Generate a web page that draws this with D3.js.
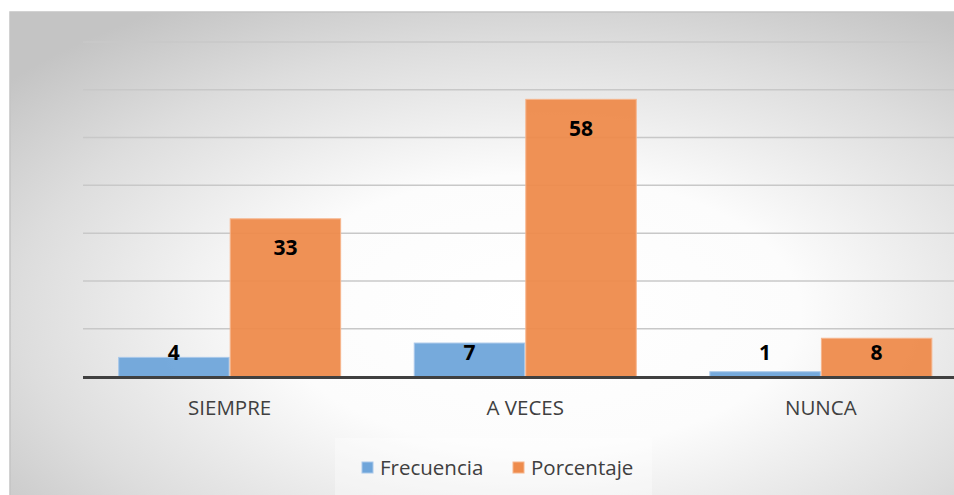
<!DOCTYPE html>
<html>
<head>
<meta charset="utf-8">
<script src="https://cdnjs.cloudflare.com/ajax/libs/d3/7.8.5/d3.min.js"></script>
<style>
  body { margin: 0; background: #fff; }
  svg { display: block; }
</style>
</head>
<body>
<div id="chart"></div>
<script>
// data
var categories = ['SIEMPRE', 'A VECES', 'NUNCA'];
var seriesNames = ['Frecuencia', 'Porcentaje'];
var frecuencia = [4, 7, 1];
var porcentaje = [33, 58, 8];
var gridTicks = [10, 20, 30, 40, 50, 60, 70];

var width = 954,
    height = 495;
var font = '"Open Sans", sans-serif';
var color = d3.scaleOrdinal().domain(seriesNames).range(['#6fa5da', '#ee8b4c']);
var edge = d3.scaleOrdinal().domain(seriesNames).range(['#a9c8ea', '#f6b58c']);

var svg = d3.select('#chart')
  .append('svg')
  .attr('width', width)
  .attr('height', height);

// background gradient of the chart area
var defs = svg.append('defs');
var grad = defs.append('radialGradient')
  .attr('id', 'bg')
  .attr('cx', 0.55).attr('cy', 0.6).attr('r', 0.72);
grad.append('stop').attr('offset', '0%').attr('stop-color', '#ffffff');
grad.append('stop').attr('offset', '38%').attr('stop-color', '#fcfcfc');
grad.append('stop').attr('offset', '75%').attr('stop-color', '#dddddd');
grad.append('stop').attr('offset', '100%').attr('stop-color', '#c4c4c4');

svg.append('rect')
  .attr('x', 10).attr('y', 12)
  .attr('width', 960).attr('height', 500)
  .attr('fill', 'url(#bg)')
  .attr('stroke', '#c4c4c4')
  .attr('stroke-width', 1.5);

var x0 = d3.scaleBand()
  .domain(categories)
  .range([82, 968.5])
  .paddingInner(0.249)
  .paddingOuter(0.124);

var x1 = d3.scaleBand()
  .domain(seriesNames)
  .range([0, x0.bandwidth()])
  .paddingInner(0.01);

var y = d3.scaleLinear()
  .domain([0, 70])
  .range([376.5, 42]);

// gridlines
svg.append('g')
  .selectAll('line')
  .data(gridTicks)
  .enter()
  .append('line')
  .attr('x1', 83).attr('x2', width)
  .attr('y1', function(d) { return y(d); })
  .attr('y2', function(d) { return y(d); })
  .attr('stroke', '#c8c8c8')
  .attr('stroke-width', 1.5);

var rows = categories.map(function(c, i) {
  return { cat: c, values: [
    { key: 'Frecuencia', value: frecuencia[i] },
    { key: 'Porcentaje', value: porcentaje[i] }
  ] };
});

var groups = svg.selectAll('.group')
  .data(rows)
  .enter()
  .append('g')
  .attr('class', 'group')
  .attr('transform', function(d) { return 'translate(' + x0(d.cat) + ',0)'; });

groups.selectAll('rect')
  .data(function(d) { return d.values; })
  .enter()
  .append('rect')
  .attr('x', function(d) { return x1(d.key); })
  .attr('y', function(d) { return y(d.value); })
  .attr('width', x1.bandwidth())
  .attr('height', function(d) { return y(0) - y(d.value); })
  .attr('fill', function(d) { return color(d.key); })
  .attr('fill-opacity', 0.95)
  .attr('stroke', function(d) { return edge(d.key); })
  .attr('stroke-width', 1);

// data labels, inside end, kept above the axis
groups.selectAll('text')
  .data(function(d) { return d.values; })
  .enter()
  .append('text')
  .attr('x', function(d) { return x1(d.key) + x1.bandwidth() / 2; })
  .attr('y', function(d) { return Math.min(y(d.value) + 29, y(0) - 24.5); })
  .attr('dy', '0.36em')
  .attr('text-anchor', 'middle')
  .style('font-family', font)
  .style('font-size', '21px')
  .style('font-weight', 'bold')
  .style('fill', '#000')
  .text(function(d) { return d.value; });

// baseline
svg.append('line')
  .attr('x1', 83).attr('x2', width)
  .attr('y1', y(0) + 1).attr('y2', y(0) + 1)
  .attr('stroke', '#404040')
  .attr('stroke-width', 3);

// category labels
svg.append('g')
  .selectAll('text')
  .data(categories)
  .enter()
  .append('text')
  .attr('x', function(d) { return x0(d) + x0.bandwidth() / 2; })
  .attr('y', 408)
  .attr('dy', '0.36em')
  .attr('text-anchor', 'middle')
  .style('font-family', font)
  .style('font-size', '20.5px')
  .style('fill', '#404040')
  .text(function(d) { return d; });

// legend
svg.append('rect')
  .attr('x', 335).attr('y', 438)
  .attr('width', 317).attr('height', 60)
  .attr('fill', '#ffffff')
  .attr('fill-opacity', 0.35);

var legendX = [362, 513];
var legend = svg.selectAll('.legend')
  .data(seriesNames)
  .enter()
  .append('g')
  .attr('class', 'legend')
  .attr('transform', function(d, i) { return 'translate(' + legendX[i] + ',462)'; });

legend.append('rect')
  .attr('width', 11)
  .attr('height', 11)
  .style('fill', color)
  .style('stroke', edge);

legend.append('text')
  .attr('x', 18)
  .attr('y', 6)
  .attr('dy', '0.36em')
  .style('font-family', font)
  .style('font-size', '20.5px')
  .style('fill', '#404040')
  .text(function(d) { return d; });
</script>
</body>
</html>
